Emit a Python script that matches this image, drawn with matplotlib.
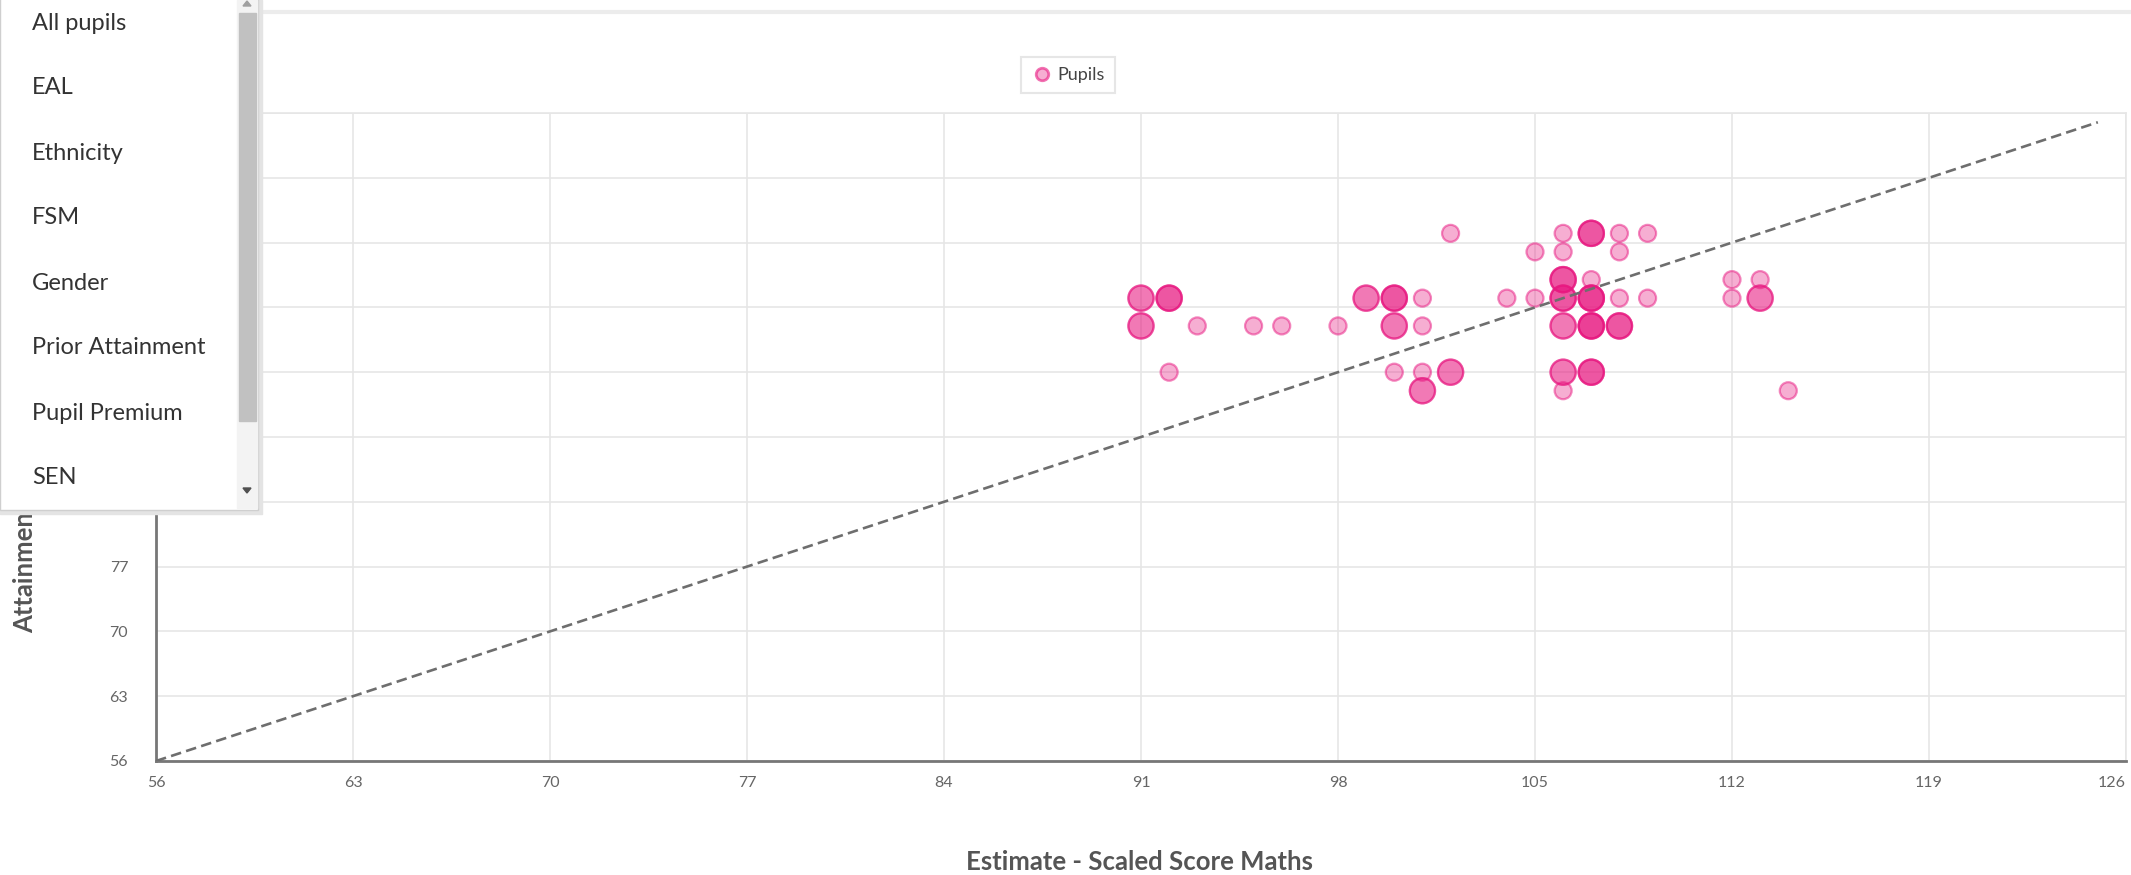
import numpy as np
import matplotlib.pyplot as plt
from matplotlib.lines import Line2D
from matplotlib.patches import Rectangle, Polygon

plt.rcParams['font.family'] = ['Lato', 'DejaVu Sans']

# pupils: estimate (x), attainment (y), number of pupils at that point
est = np.array([102, 106, 107, 108, 109,
                105, 106, 108,
                106, 107, 112, 113,
                91, 92, 99, 100, 101, 104, 105, 106, 107, 108, 109, 112, 113,
                91, 93, 95, 96, 98, 100, 101, 106, 107, 108,
                92, 100, 101, 102, 106, 107,
                101, 106, 114])
att = np.array([113, 113, 113, 113, 113,
                111, 111, 111,
                108, 108, 108, 108,
                106, 106, 106, 106, 106, 106, 106, 106, 106, 106, 106, 106, 106,
                103, 103, 103, 103, 103, 103, 103, 103, 103, 103,
                98, 98, 98, 98, 98, 98,
                96, 96, 96])
count = np.array([1, 1, 3, 1, 1,
                  1, 1, 1,
                  3, 1, 1, 1,
                  2, 3, 2, 3, 1, 1, 1, 3, 4, 1, 1, 1, 2,
                  2, 1, 1, 1, 1, 2, 1, 2, 4, 3,
                  1, 1, 1, 2, 2, 3,
                  2, 1, 1])

ref_x = [56, 125]
ref_y = [56, 125]

ticks = [56, 63, 70, 77, 84, 91, 98, 105, 112, 119, 126]

menu_items = ['All pupils', 'EAL', 'Ethnicity', 'FSM', 'Gender',
              'Prior Attainment', 'Pupil Premium', 'SEN']

W, H = 2131, 875
fig = plt.figure(figsize=(W / 100, H / 100), dpi=100)
ax = fig.add_axes([156 / W, 1 - 761 / H, (2126 - 156) / W, (761 - 113) / H])

pink = (0.91, 0.09, 0.50)
sizes = np.where(count > 1, 330, 150)

# stack translucent markers so that repeated pupils get darker
for k in range(1, count.max() + 1):
    m = count >= k
    ax.scatter(est[m], att[m], s=sizes[m], facecolor=pink + (0.35,),
               edgecolor=pink + (0.5,), linewidth=1.6, zorder=3)

ax.plot(ref_x, ref_y, color='#6e6e6e', lw=1.9, linestyle=(0, (4, 2)), zorder=4)

ax.set_xlim(56, 126)
ax.set_ylim(56, 126)
ax.set_xticks(ticks)
ax.set_yticks(ticks)
ax.grid(color='#e6e6e6', lw=1.2, zorder=0)
ax.tick_params(length=0, labelsize=11.5, labelcolor='#666666')
ax.tick_params(axis='x', pad=11)
ax.tick_params(axis='y', pad=20)
ax.get_xticklabels()[-1].set_horizontalalignment('right')
for s in ['left', 'bottom']:
    ax.spines[s].set_color('#777777')
    ax.spines[s].set_linewidth(2)
for s in ['top', 'right']:
    ax.spines[s].set_color('#e6e6e6')
    ax.spines[s].set_linewidth(1.2)

fig.text(1140 / W, 1 - 862 / H, 'Estimate - Scaled Score Maths',
         ha='center', va='center', fontsize=18.5, fontweight='bold', color='#555555')
fig.text(25 / W, 1 - 633 / H, 'Attainment - Scaled Score Maths', rotation=90,
         ha='center', va='bottom', fontsize=18.5, fontweight='bold', color='#555555',
         zorder=1)

# legend
handle = Line2D([], [], marker='o', linestyle='none', markersize=9,
                markerfacecolor=pink + (0.35,), markeredgecolor=pink + (0.6,),
                markeredgewidth=2)
leg = ax.legend([handle], ['Pupils'], loc='center', bbox_to_anchor=(1068 / W, 1 - 75 / H),
                bbox_transform=fig.transFigure, fancybox=False, fontsize=13,
                handletextpad=0.3, handlelength=1.2, borderpad=0.55)
leg.get_frame().set_edgecolor('#e0e0e0')
leg.get_frame().set_linewidth(1.5)
for t in leg.get_texts():
    t.set_color('#444444')

# top page divider
fig.add_artist(Line2D([258 / W, 1], [1 - 12 / H, 1 - 12 / H], color='#ececec', lw=3))

# dropdown overlay
dd = fig.add_axes([0, 1 - 516 / H, 264 / W, 516 / H])
dd.set_zorder(10)
dd.set_xlim(0, 264)
dd.set_ylim(516, 0)
dd.axis('off')
dd.add_patch(Rectangle((0, 0), 262, 514, color='#e4e4e4', zorder=0))
dd.add_patch(Rectangle((0, -2), 258, 512, facecolor='white', edgecolor='#cfcfcf', lw=1, zorder=1))
dd.add_patch(Rectangle((237, 0), 20, 508, color='#f3f3f3', zorder=2))
dd.add_patch(Rectangle((239, 13), 17, 408, color='#c1c1c1', zorder=3))
dd.add_patch(Polygon([[243, 6], [251, 6], [247, 1]], color='#a0a0a0', zorder=3))
dd.add_patch(Polygon([[243, 488], [251, 488], [247, 493]], color='#505050', zorder=3))
for i, item in enumerate(menu_items):
    dd.text(32, 23 + 65 * i, item, fontsize=17, color='#333333', va='center', ha='left', zorder=4)

plt.savefig('out.png', dpi=100)
